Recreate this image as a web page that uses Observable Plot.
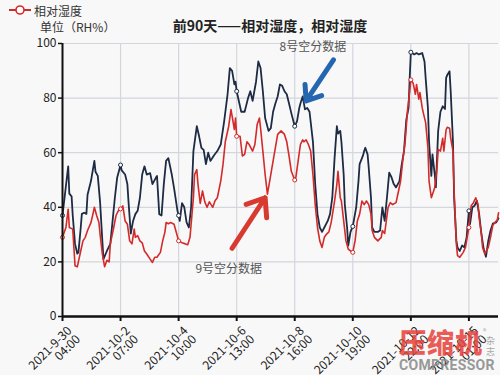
<!DOCTYPE html>
<html><head><meta charset="utf-8">
<script src="https://cdn.jsdelivr.net/npm/d3@7"></script>
<script src="https://cdn.jsdelivr.net/npm/@observablehq/plot@0.6"></script>
<style>
body{margin:0;background:#f8f8f8;font-family:"Noto Sans CJK SC","Noto Sans",sans-serif;}
#wrap{position:relative;width:500px;height:375px;overflow:hidden;background:#f8f8f8}
#chart{position:absolute;left:0;top:0}
.ov{position:absolute;white-space:nowrap;color:#222}
#title{left:0;width:540px;top:15px;text-align:center;font-size:14px;font-weight:bold}
#unit{left:40px;top:18px;font-size:12px;color:#333}
#legend{left:6px;top:1px;font-size:12px;color:#333;display:flex;align-items:center}
#wm{left:398px;top:327px;opacity:0.85}
</style></head><body>
<div id="wrap">
<div id="chart"></div>
<div class="ov" id="legend"><svg width="28" height="18"><line x1="3" y1="9" x2="25" y2="9" stroke="#d42a2a" stroke-width="2"/><circle cx="14" cy="9" r="4" fill="#fff" stroke="#d42a2a" stroke-width="1.6"/></svg><span id="legtext"></span></div>
<div class="ov" id="unit"></div>
<div class="ov" id="title"></div>
<div class="ov" id="wm"></div>
</div>
<script>
const titleText = "前90天——相对湿度，相对湿度";
const unitText = "单位（RH%）";
const legendText = "相对湿度";
const tickHours = [0,51,102,153,204,255,306,357];
const tickLabels = ["2021-9-30\n04:00","2021-10-2\n07:00","2021-10-4\n10:00","2021-10-6\n13:00","2021-10-8\n16:00","2021-10-10\n19:00","2021-10-12\n22:00","2021-10-15\n01:00"];
const yTicks = [0,20,40,60,80,100];

// 8号空分 (dark line): hour offset from 2021-9-30 04:00, RH%
const darkHours = [0,5,6,8,9,11,13,14,16,17,19,21,22,25,28,29,31,33,35,36,39,42,44,46,48,51,52,55,57,58,60,62,64,66,68,70,72,74,77,79,82,83,85,87,89,91,93,96,98,101,102,103,105,107,109,111,113,115,118,120,122,124,126,128,130,133,136,139,142,145,147,149,151,152,153,157,160,163,165,167,170,172,174,176,178,181,183,185,187,189,191,193,195,197,199,201,204,206,208,209,211,213,215,217,220,222,224,226,228,230,233,235,237,239,241,242,244,245,247,248,250,251,253,255,258,260,261,264,265,266,268,269,271,272,274,277,279,281,283,285,287,289,291,293,296,298,300,302,304,305,306,309,311,313,316,318,319,321,322,324,325,327,328,329,330,332,334,336,337,338,340,341,343,344,346,347,349,351,353,355,357,358,360,362,364,366,368,370,372,374,376,378,381,383];
const darkValues = [37,55,45,44,37,26.6,23,23.5,32.5,37.6,38,37.6,44.6,49.6,57,53,51.5,42,27.7,21,24,26.6,35,43.5,50.8,55.5,53.5,52,48.5,42,30.4,35,37.5,38.7,43.5,52,55,52,52.5,48.5,50.8,51.5,37.5,37,48.5,57,58,52,47,38.7,37,35,41.5,40,34.5,32.6,40,60.6,69.7,66,61.8,61,55.8,60,57,59,60.6,63,71.5,81.4,91,90,85,86,82.5,75,75,80,82.5,79,86,93.4,91,82.5,72.7,68,69,75,78,80.6,85,84.5,82.5,81.4,78,74.5,69.7,71.5,76.4,78,80.6,75.9,76.4,75,64,48.4,37.5,32.6,31,32.6,35,37.5,43.5,58,69.7,67,68,64,52,41,32.6,26,31,33,40,49.6,55.8,59,60.6,61.8,59.4,54.5,43.5,32.6,31,31,31.5,40,35,43.5,52.7,51,48.5,47.3,49.6,55.7,60.6,72,76.4,87.4,96.8,96,96.5,96,96.5,93.4,87.4,76.4,64,51.5,59.4,52,47.3,58,68,75,77,76,87.4,88.5,89.8,82.5,64,43.5,27.7,25.3,24,26,25.3,29,38.7,33.8,40,40.6,42.4,37.5,30.2,24.7,21.9,27.7,31.5,34,34.5,36];

// 9号空分 (red line)
const redHours = [0,3,5,6,9,10,11,13,16,18,20,22,25,27,28,30,32,33,35,37,39,41,42,45,47,49,51,53,55,57,59,61,63,64,66,68,70,72,74,77,79,81,83,86,88,90,91,93,95,98,100,102,105,108,110,112,115,116,118,119,121,123,125,127,129,132,134,136,139,141,143,146,148,149,151,152,153,156,158,160,162,164,167,169,171,173,174,176,178,180,182,184,186,189,192,195,197,199,201,204,205,207,209,211,212,214,216,218,220,222,224,226,228,230,232,234,236,239,241,242,244,245,247,249,251,253,255,257,259,261,263,265,267,269,271,272,274,277,280,281,283,286,288,290,293,295,297,299,301,303,305,306,308,310,311,313,314,316,317,319,321,322,324,326,327,329,330,332,334,335,337,338,340,341,343,344,346,347,349,352,354,356,357,359,361,363,365,366,368,369,371,374,376,378,380,382,383];
const redValues = [29,32.6,39.3,32.6,32,25.3,18.6,18.2,24,27.7,29,31.5,34.4,38,40,37,34.4,30.2,22.9,18.2,20.6,20,26.6,32.6,37,38.7,39.4,40.5,35,33.8,27.7,26.6,32,29,29.6,27.7,27,24,22.9,21,19.8,21.7,21.7,23.5,27.7,31,34.4,34,34.4,33.8,30.8,27.7,27,26.6,26.3,29,43.5,52,53.8,48.5,41.4,46,42,40,42,40,42.4,43.5,49.6,55.7,64,69.7,75.8,73.4,68.5,72.7,66,66,58.8,59.4,64,63,60.6,63,70.3,72.7,69,60.6,52,44.8,49.6,54.5,59.4,66.7,68,66.7,64,58.8,53.2,50,51,57,63,64.7,64,64.7,63,60.6,52,41,32.6,27.7,25.3,29,30.2,31,34.4,42.3,48.4,53.2,43.5,42.3,35,27.7,24.7,24,23.5,27.7,35,37.5,42.3,41,42.3,41,37.5,31.5,29,27.7,29,31.5,30.4,40,41.7,41,41.7,45.6,49.6,57.5,64,75.2,82.5,86.7,85.5,81.4,85,79.6,82,76.4,74.5,71,61.8,49.6,43.5,46,47.3,54.5,61.2,60.6,65.3,60.6,68.5,69.3,69,65.3,60.6,46,26.5,22.3,21.7,23.5,25.3,30.2,32.6,40.6,41.7,43.5,41,36.2,30.2,25.3,22.9,25.3,29,33.4,34.5,35.4,38];

// annotations (data space)
const annoLabels = ["8号空分数据","9号空分数据"];
const annoTextHour = [220, 146];
const annoTextValue = [98.5, 17.5];
const arrowFromHour = [238, 149];
const arrowFromValue = [94, 25];
const arrowToHour = [214, 178];
const arrowToValue = [79, 43.5];
const arrowColors = ["#2566b0","#d83a32"];

const dark = darkHours.map((h,i)=>({h, v: darkValues[i]}));
const red = redHours.map((h,i)=>({h, v: redValues[i]}));
const annos = annoLabels.map((t,i)=>({t, x: annoTextHour[i], y: annoTextValue[i], x1: arrowFromHour[i], y1: arrowFromValue[i], x2: arrowToHour[i], y2: arrowToValue[i], c: arrowColors[i]}));
const darkMarks = dark.filter(d => tickHours.includes(d.h));
const redMarks = red.filter(d => tickHours.includes(d.h));

document.getElementById("title").textContent = titleText;
document.getElementById("unit").textContent = unitText;
document.getElementById("legtext").textContent = legendText;
document.getElementById("wm").innerHTML =
  '<div style="position:relative;width:100px;height:48px">' +
  '<div style="position:absolute;left:1px;top:0;font-size:27px;font-weight:900;color:#e8403a;letter-spacing:1px;line-height:30px">压缩机</div>' +
  '<div style="position:absolute;left:85px;top:-1px;font-size:7px;color:#999">®</div>' +
  '<div style="position:absolute;left:88px;top:8px;font-size:9px;line-height:11px;color:#999;width:10px;white-space:normal">杂志</div>' +
  '<div style="position:absolute;left:1px;top:30px;font-size:14px;font-weight:bold;color:#888;letter-spacing:0.3px;font-family:Roboto,sans-serif">COMPRESSOR</div></div>';

const chart = Plot.plot({
  width: 500,
  height: 375,
  marginTop: 43,
  marginBottom: 59,
  marginLeft: 62,
  marginRight: 2,
  style: {fontFamily: '"Noto Sans CJK SC","Noto Sans",sans-serif', fontSize: "12px", background: "transparent", color: "#222"},
  x: {domain: [0, 383]},
  y: {domain: [0, 100]},
  marks: [
    Plot.gridX(tickHours, {stroke: "#d4d6de", strokeOpacity: 1, strokeWidth: 1.2}),
    Plot.gridY(yTicks.filter(d => d > 0), {stroke: "#d4d6de", strokeOpacity: 1, strokeWidth: 1.2}),
    Plot.axisY({ticks: yTicks, tickSize: 4, tickPadding: 2, label: null, fontSize: 12, stroke: "#111", strokeWidth: 1.5}),
    Plot.axisX({ticks: tickHours, tickFormat: () => "", tickSize: 5, label: null, stroke: "#111", strokeWidth: 2}),
    Plot.text(tickHours, {x: d => d, frameAnchor: "bottom", text: (d, i) => tickLabels[i], rotate: -45, textAnchor: "end", lineAnchor: "top", dx: 4, dy: 9, fontSize: 12, fill: "#222"}),
    Plot.line(dark, {x: "h", y: "v", stroke: "#1d2b44", strokeWidth: 1.8}),
    Plot.line(red, {x: "h", y: "v", stroke: "#d42a2a", strokeWidth: 1.6}),
    Plot.dot(darkMarks, {x: "h", y: "v", r: 2, fill: "#fff", stroke: "#1d2b44", strokeWidth: 1}),
    Plot.dot(redMarks, {x: "h", y: "v", r: 2, fill: "#fff", stroke: "#d42a2a", strokeWidth: 1}),
    Plot.ruleX([0], {stroke: "#111", strokeWidth: 2}),
    Plot.ruleY([0], {stroke: "#111", strokeWidth: 2.5}),
    Plot.arrow(annos, {x1: "x1", y1: "y1", x2: "x2", y2: "y2", stroke: "c", strokeWidth: 5, headLength: 16, headAngle: 75}),
    Plot.text(annos, {x: "x", y: "y", text: "t", fill: "#555", fontSize: 12})
  ]
});
document.getElementById("chart").appendChild(chart);
</script>
</body></html>
